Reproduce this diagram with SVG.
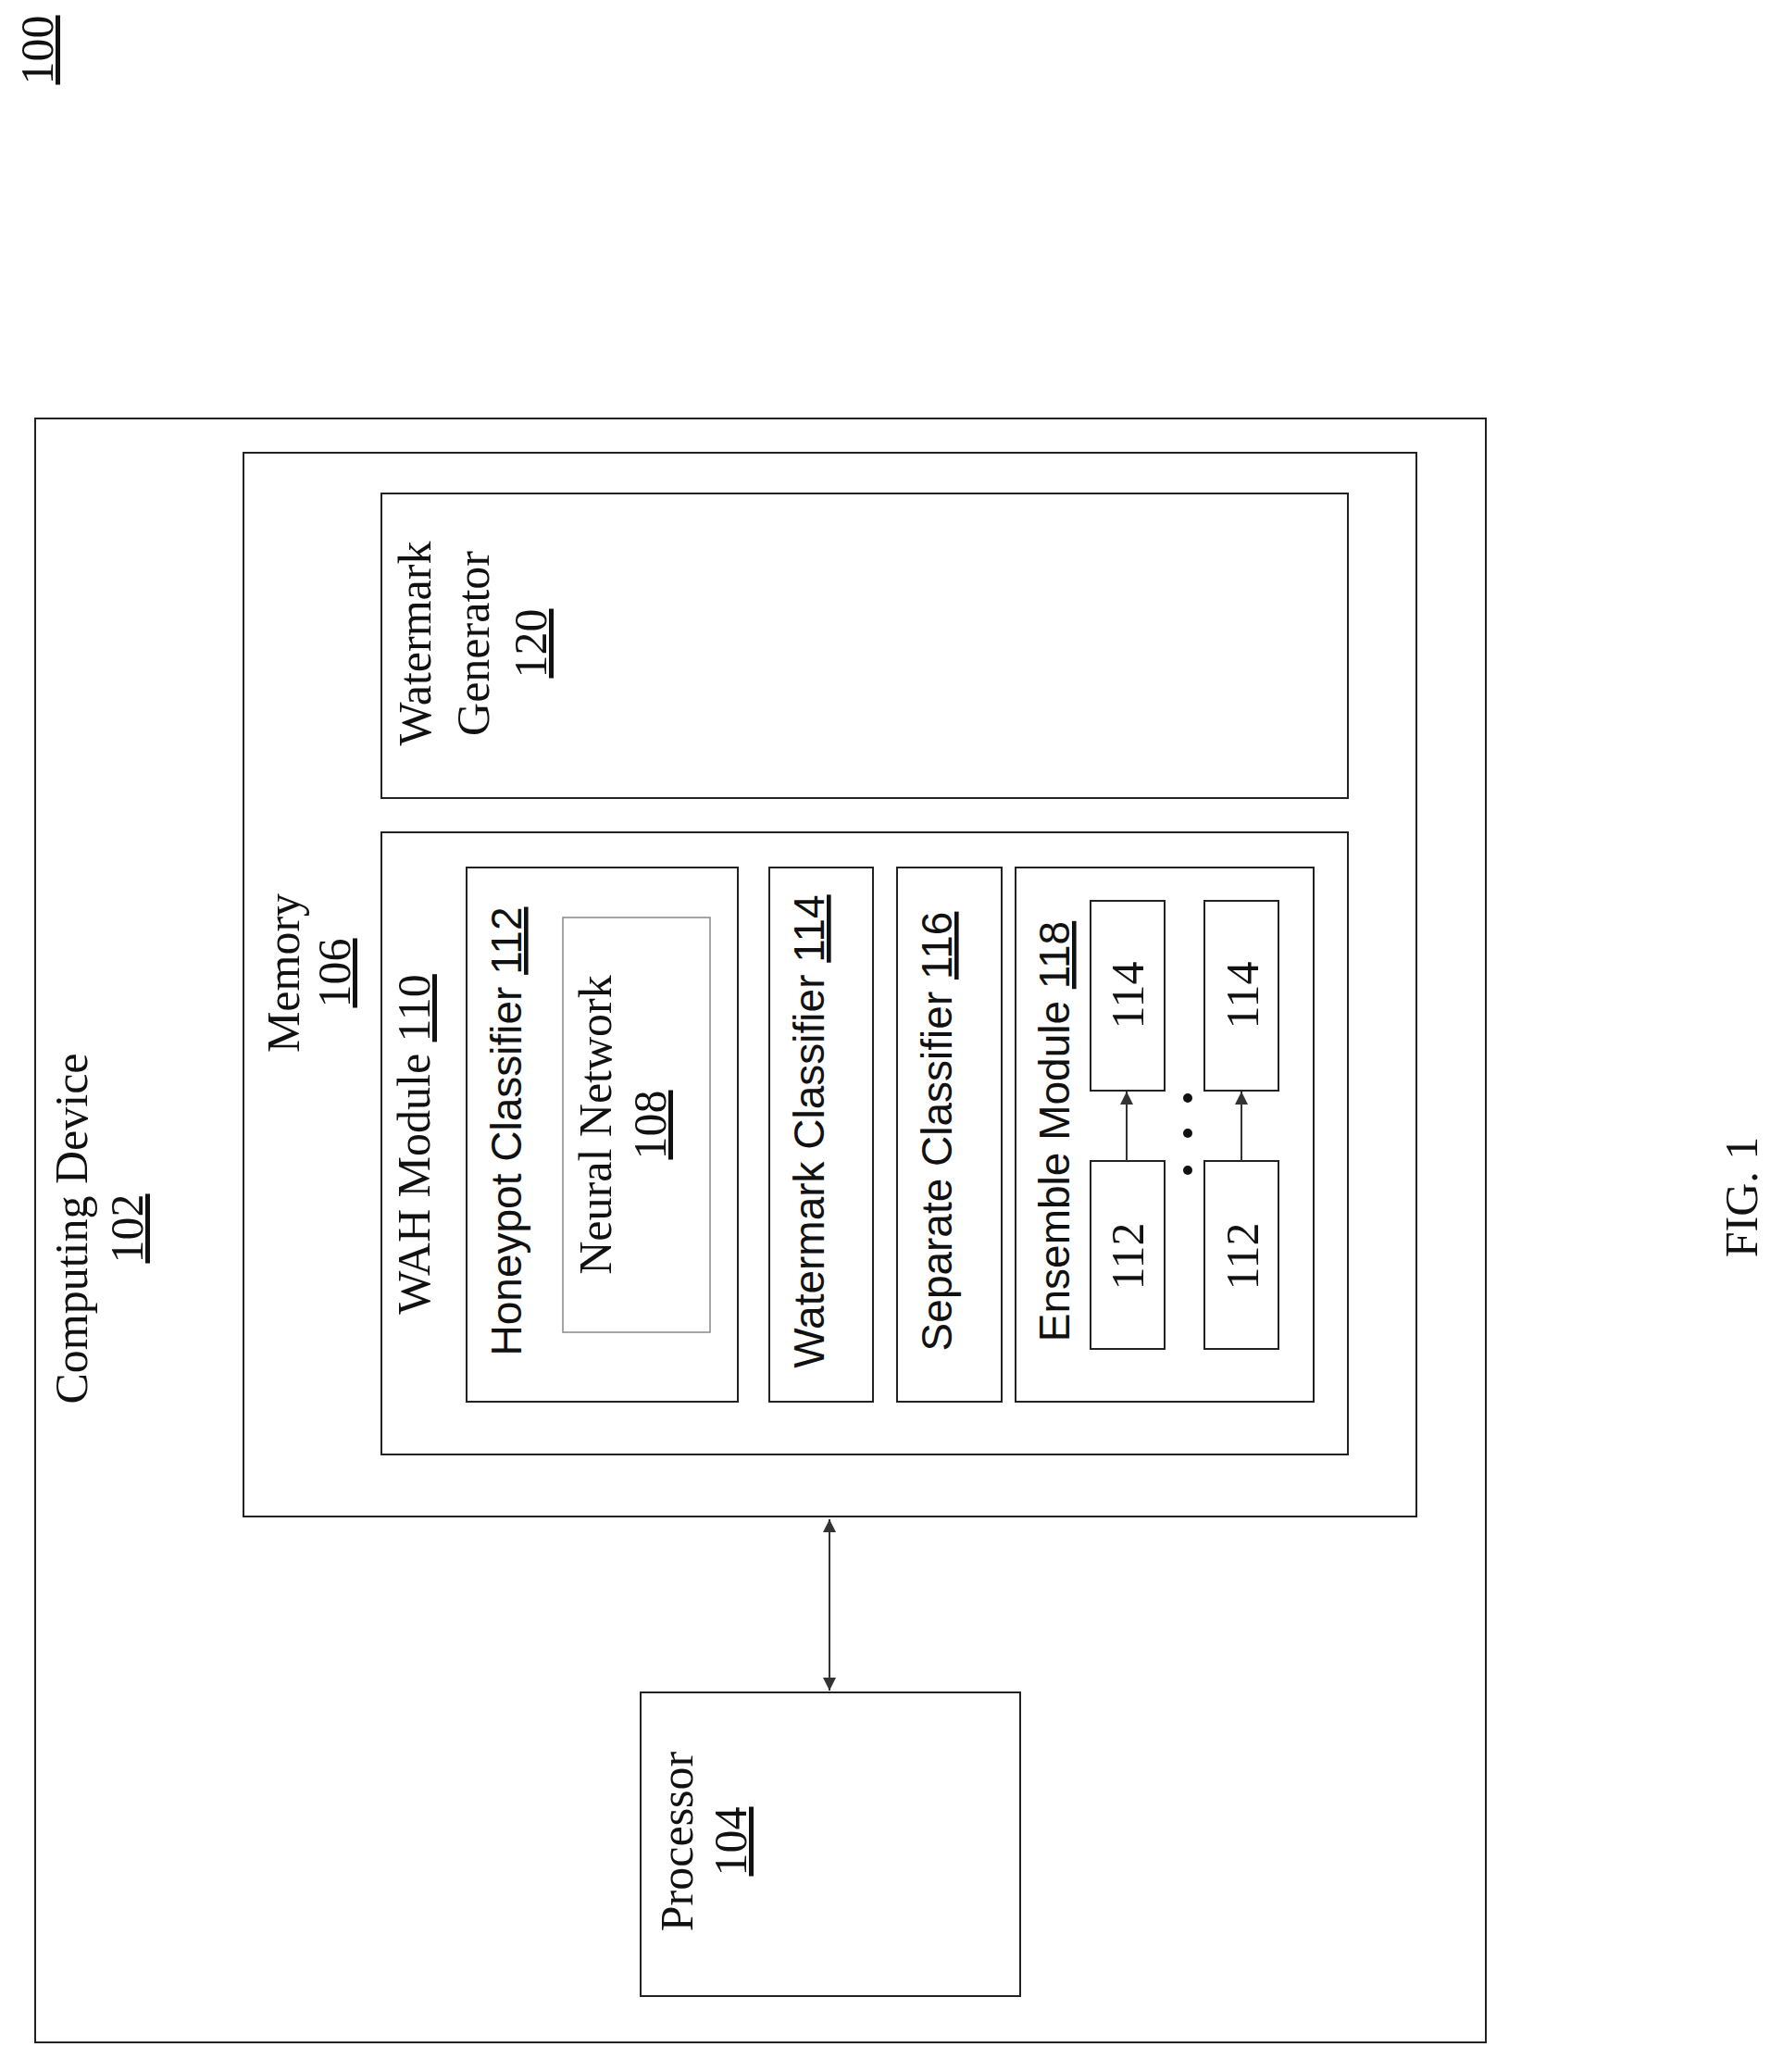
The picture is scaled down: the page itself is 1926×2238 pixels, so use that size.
<svg xmlns="http://www.w3.org/2000/svg" width="1926" height="2238" viewBox="0 0 1926 2238">
<style>
.b{fill:none;stroke:#222;stroke-width:2}
.s{font-family:"Liberation Serif",serif;font-size:50px;fill:#111;text-anchor:middle}
.a{font-family:"Liberation Sans",sans-serif;font-size:46px;fill:#111;text-anchor:middle}
.u{text-decoration:underline}
</style>
<defs>
<marker id="ah" viewBox="0 0 10 10" refX="10" refY="5" markerWidth="16" markerHeight="14" markerUnits="userSpaceOnUse" orient="auto-start-reverse"><path d="M0,0L10,5L0,10z" fill="#333"/></marker>
</defs>
<rect width="1926" height="2238" fill="#fff"/>
<text class="s u" transform="translate(57,54) rotate(-90)">100</text>
<g id="computing-device"><rect class="b" x="38" y="452" width="1567" height="1754"/>
<text class="s" transform="translate(94,1327) rotate(-90)">Computing Device</text>
<text class="s u" transform="translate(154,1327) rotate(-90)">102</text></g>
<g id="memory"><rect class="b" x="263" y="489" width="1267" height="1149"/>
<text class="s" transform="translate(323,1051) rotate(-90)">Memory</text>
<text class="s u" transform="translate(378,1051) rotate(-90)">106</text></g>
<g id="watermark-generator"><rect class="b" x="412" y="533" width="1044" height="329"/>
<text class="s" transform="translate(465,695) rotate(-90)">Watermark</text>
<text class="s" transform="translate(528,695) rotate(-90)">Generator</text>
<text class="s u" transform="translate(590,695) rotate(-90)">120</text></g>
<g id="wah-module"><rect class="b" x="412" y="899" width="1044" height="672"/>
<text class="s" transform="translate(464,1236) rotate(-90)">WAH Module <tspan class="u">110</tspan></text></g>
<g id="honeypot"><rect class="b" x="504" y="937" width="293" height="577"/>
<text class="a" transform="translate(563,1222) rotate(-90)">Honeypot Classifier <tspan class="u">112</tspan></text></g>
<g id="neural-network"><rect x="608" y="991" width="159" height="448" fill="none" stroke="#888" stroke-width="1.5"/>
<text class="s" transform="translate(660,1215) rotate(-90)">Neural Network</text>
<text class="s u" transform="translate(719,1215) rotate(-90)">108</text></g>
<g id="watermark-classifier"><rect class="b" x="831" y="937" width="112" height="577"/>
<text class="a" transform="translate(890,1222) rotate(-90)">Watermark Classifier <tspan class="u">114</tspan></text></g>
<g id="separate-classifier"><rect class="b" x="969" y="937" width="113" height="577"/>
<text class="a" transform="translate(1028,1222) rotate(-90)">Separate Classifier <tspan class="u">116</tspan></text></g>
<g id="ensemble"><rect class="b" x="1097" y="937" width="322" height="577"/>
<text class="a" transform="translate(1155,1222) rotate(-90)">Ensemble Module <tspan class="u">118</tspan></text></g>
<g id="e114a"><rect class="b" x="1178" y="973" width="80" height="205"/><text class="s" transform="translate(1235,1075) rotate(-90)">114</text></g>
<g id="e114b"><rect class="b" x="1301" y="973" width="80" height="205"/><text class="s" transform="translate(1359,1075) rotate(-90)">114</text></g>
<g id="e112a"><rect class="b" x="1178" y="1254" width="80" height="203"/><text class="s" transform="translate(1235,1357) rotate(-90)">112</text></g>
<g id="e112b"><rect class="b" x="1301" y="1254" width="80" height="203"/><text class="s" transform="translate(1359,1357) rotate(-90)">112</text></g>
<g id="dots" fill="#111"><circle cx="1283" cy="1186" r="5"/><circle cx="1283" cy="1224" r="5"/><circle cx="1283" cy="1264" r="5"/></g>
<g id="processor"><rect class="b" x="692" y="1828" width="410" height="328"/>
<text class="s" transform="translate(748,1989) rotate(-90)">Processor</text>
<text class="s u" transform="translate(806,1989) rotate(-90)">104</text></g>
<g id="connectors" stroke="#333" stroke-width="2" fill="none">
<line x1="1217" y1="1254" x2="1217" y2="1179" marker-end="url(#ah)"/>
<line x1="1341" y1="1254" x2="1341" y2="1179" marker-end="url(#ah)"/>
<line x1="896" y1="1641" x2="896" y2="1826" marker-start="url(#ah)" marker-end="url(#ah)"/>
</g>
<text class="s" transform="translate(1898,1293) rotate(-90)">FIG. 1</text>
</svg>
